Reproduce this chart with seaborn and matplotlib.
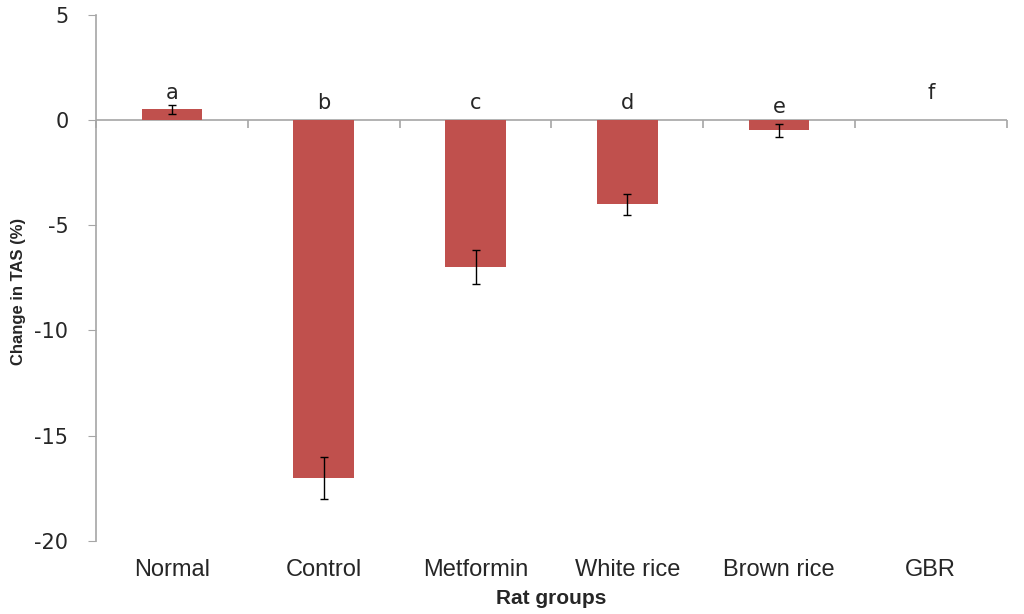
import numpy as np
import pandas as pd
import matplotlib
matplotlib.use("Agg")
import matplotlib.pyplot as plt
import seaborn as sns

groups = ["Normal", "Control", "Metformin", "White rice", "Brown rice", "GBR"]
change_tas = [0.5, -17.0, -7.0, -4.0, -0.5, 0.0]
err = [0.2, 1.0, 0.8, 0.5, 0.3, 0.0]
letters = ["a", "b", "c", "d", "e", "f"]
letter_y = [0.8, 0.35, 0.35, 0.35, 0.15, 0.8]
yticks = [-20, -15, -10, -5, 0, 5]

sns.set_style("white")
plt.rcParams['font.family'] = ['Liberation Sans Narrow', 'Liberation Sans', 'DejaVu Sans']

df = pd.DataFrame({"group": groups, "change": change_tas})

fig = plt.figure(figsize=(10.24, 6.14), dpi=100)
ax = fig.add_axes([0.094, 0.119, 0.889, 0.857])
sns.barplot(data=df, x="group", y="change", color="#C0504D", saturation=1,
            width=0.4, errorbar=None, linewidth=0, ax=ax)
ax.errorbar(np.arange(len(groups))[:5], change_tas[:5], yerr=err[:5], fmt="none",
            ecolor="black", elinewidth=1, capsize=3, capthick=1)

for i, (lt, ly) in enumerate(zip(letters, letter_y)):
    ax.text(i, ly, lt, ha="center", va="bottom", fontsize=15, family="DejaVu Sans")

ax.set_xlim(-0.5, 5.5)
ax.set_ylim(-20, 5)
ax.set_yticks(yticks)
ax.set_yticklabels([str(v) for v in yticks], family="DejaVu Sans", fontsize=15)
ax.tick_params(axis="y", direction="out", length=6, color="#A6A6A6", pad=14, left=True)
ax.tick_params(axis="x", length=0, pad=13, labelsize=17)

for s in ["top", "right", "bottom"]:
    ax.spines[s].set_visible(False)
ax.spines["left"].set_color("#A6A6A6")
ax.spines["left"].set_linewidth(1.2)

# zero line with category boundary ticks
ax.axhline(0, color="#A6A6A6", linewidth=1.2, zorder=0)
sec = ax.secondary_xaxis(20 / 25)
sec.xaxis.set_ticks_position("bottom")
sec.set_xticks(np.arange(-0.5, 6, 1))
sec.set_xticklabels([])
sec.tick_params(direction="out", length=6, color="#A6A6A6", width=1.2)
sec.spines["bottom"].set_visible(False)
sec.spines["top"].set_visible(False)

ax.set_xlabel("Rat groups", fontsize=15, fontweight="bold", labelpad=6)
ax.set_ylabel("Change in TAS (%)", fontsize=12, fontweight="bold")
ax.yaxis.set_label_coords(-0.077, 0.475)

fig.savefig("out.png", dpi=100)
